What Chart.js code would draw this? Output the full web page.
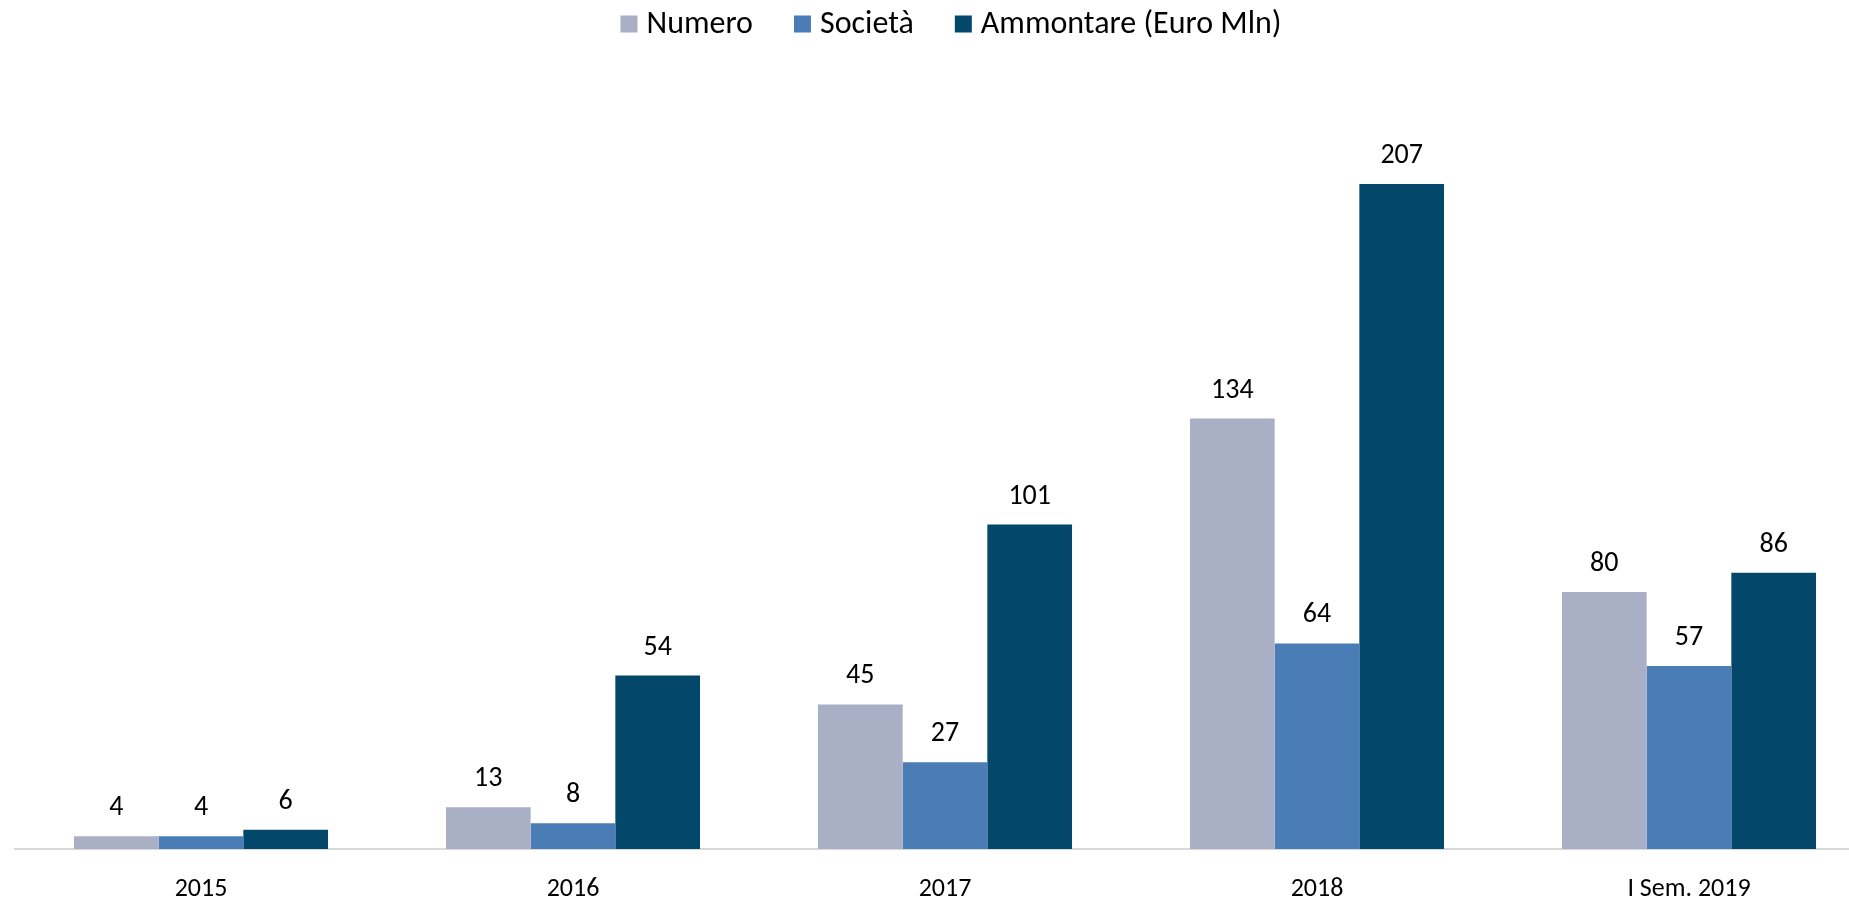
<!DOCTYPE html>
<html lang="it">
<head>
  <meta charset="UTF-8" />
  <title>Numero, Società, Ammontare</title>
  <script src="https://cdn.jsdelivr.net/npm/chart.js"></script>
  <style>
    html, body {
      margin: 0;
      padding: 0;
      background: #fff;
      overflow: hidden;
    }
    /* il grafico originale è ritagliato a destra: il canvas è più largo della finestra */
    .wrap {
      width: 1902px;
      height: 899px;
      position: relative;
    }
  </style>
</head>
<body>
  <div class="wrap">
    <canvas id="grafico"></canvas>
  </div>

  <script>
    const categorie = ['2015', '2016', '2017', '2018', 'I Sem. 2019'];
    const numero = [4, 13, 45, 134, 80];
    const societa = [4, 8, 27, 64, 57];
    const ammontare = [6, 54, 101, 207, 86];

    const FONT = "Carlito, Lato, sans-serif";

    // etichette con i valori sopra le barre
    const etichette = {
      id: 'etichette',
      afterDatasetsDraw(chart) {
        const ctx = chart.ctx;
        ctx.save();
        ctx.fillStyle = '#000';
        ctx.font = '28px ' + FONT;
        ctx.textAlign = 'center';
        ctx.textBaseline = 'alphabetic';
        chart.data.datasets.forEach((ds, i) => {
          const meta = chart.getDatasetMeta(i);
          meta.data.forEach((bar, j) => {
            ctx.fillText(ds.data[j], bar.x, bar.y - 21);
          });
        });
        ctx.restore();
      }
    };

    // legenda disegnata a mano, centrata in alto
    const legenda = {
      id: 'legenda',
      afterDraw(chart) {
        const ctx = chart.ctx;
        const box = 17, gapTesto = 9, gapVoci = 41, y = 24;
        ctx.save();
        ctx.font = '32px ' + FONT;
        ctx.textBaseline = 'middle';
        const voci = chart.data.datasets.map(ds => ({
          testo: ds.label, colore: ds.backgroundColor, w: ctx.measureText(ds.label).width
        }));
        let tot = 0;
        voci.forEach((v, i) => { tot += box + gapTesto + v.w + (i ? gapVoci : 0); });
        let x = chart.width / 2 - tot / 2;
        voci.forEach(v => {
          ctx.fillStyle = v.colore;
          ctx.fillRect(x, y - box / 2, box, box);
          ctx.fillStyle = '#000';
          ctx.fillText(v.testo, x + box + gapTesto, y + 1);
          x += box + gapTesto + v.w + gapVoci;
        });
        ctx.restore();
      }
    };

    const ctx = document.getElementById('grafico').getContext('2d');
    new Chart(ctx, {
      type: 'bar',
      data: {
        labels: categorie,
        datasets: [
          { label: 'Numero', data: numero, backgroundColor: '#A9AFC4' },
          { label: 'Società', data: societa, backgroundColor: '#4A7CB6' },
          { label: 'Ammontare (Euro Mln)', data: ammontare, backgroundColor: '#03476A' }
        ]
      },
      options: {
        responsive: true,
        maintainAspectRatio: false,
        animation: false,
        datasets: {
          bar: { categoryPercentage: 0.683, barPercentage: 1.0 }
        },
        layout: { padding: { left: 15, right: 27, top: 46, bottom: 0 } },
        plugins: {
          legend: { display: false },
          tooltip: { enabled: false }
        },
        scales: {
          x: {
            grid: { display: false, drawTicks: false },
            border: { display: true, color: '#D9D9D9', width: 2 },
            ticks: {
              font: { family: FONT, size: 26 },
              color: '#000',
              padding: 25
            },
            afterFit(scale) { scale.height = 50; }
          },
          y: {
            display: false,
            min: 0,
            max: 250
          }
        }
      },
      plugins: [etichette, legenda]
    });
  </script>
</body>
</html>
